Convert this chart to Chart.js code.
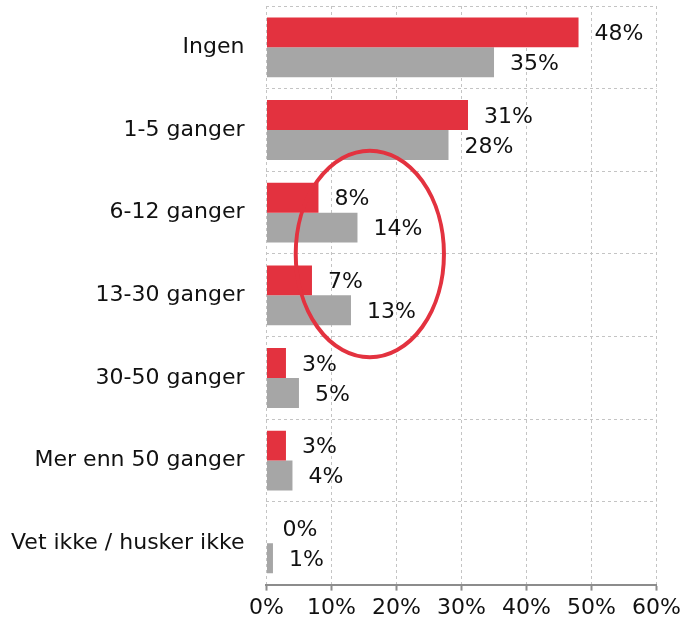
<!DOCTYPE html>
<html>
<head>
<meta charset="utf-8">
<script src="https://cdn.jsdelivr.net/npm/chart.js@4/dist/chart.umd.min.js"></script>
<style>
  body { margin: 0; background: #fff; }
</style>
</head>
<body>
<canvas id="chart" width="685" height="625"></canvas>
<script>
// Data (percent)
const categories = ['Ingen', '1-5 ganger', '6-12 ganger', '13-30 ganger', '30-50 ganger', 'Mer enn 50 ganger', 'Vet ikke / husker ikke'];
const redValues = [48, 31, 8, 7, 3, 3, 0];
const grayValues = [35, 28, 14, 13, 5, 4, 1];
const xTicks = [0, 10, 20, 30, 40, 50, 60];

const FONT = '"DejaVu Sans", Verdana, sans-serif';
const FONT_SIZE = 22;

// value labels to the right of each bar
const valueLabels = {
    id: 'valueLabels',
    afterDatasetsDraw(chart) {
        const ctx = chart.ctx;
        ctx.save();
        ctx.font = FONT_SIZE + 'px ' + FONT;
        ctx.fillStyle = '#111';
        ctx.textAlign = 'left';
        ctx.textBaseline = 'middle';
        chart.data.datasets.forEach((ds, i) => {
            chart.getDatasetMeta(i).data.forEach((bar, j) => {
                ctx.fillText(ds.data[j] + '%', bar.x + 16, bar.y + 2);
            });
        });
        ctx.restore();
    }
};

// red ring around 6-12 / 13-30 rows
const ring = {
    id: 'ring',
    afterDraw(chart) {
        const x = chart.scales.x, y = chart.scales.y;
        const cx = x.getPixelForValue(15.9);
        const cy = (y.getPixelForValue(2) + y.getPixelForValue(3)) / 2;
        const rx = x.getPixelForValue(27.3) - cx;
        const ry = (y.getPixelForValue(3) - y.getPixelForValue(2)) * 1.25;
        const ctx = chart.ctx;
        ctx.save();
        ctx.strokeStyle = '#E3323F';
        ctx.lineWidth = 4;
        ctx.beginPath();
        ctx.ellipse(cx, cy, rx, ry, 0, 0, Math.PI * 2);
        ctx.stroke();
        ctx.restore();
    }
};

new Chart(document.getElementById('chart'), {
    type: 'bar',
    data: {
        labels: categories,
        datasets: [
            { data: redValues, backgroundColor: '#E3323F', categoryPercentage: 0.724, barPercentage: 1 },
            { data: grayValues, backgroundColor: '#A6A6A6', categoryPercentage: 0.724, barPercentage: 1 }
        ]
    },
    options: {
        indexAxis: 'y',
        responsive: false,
        animation: false,
        layout: { padding: { left: -11, top: 6, right: 0, bottom: 0 } },
        plugins: { legend: { display: false }, tooltip: { enabled: false } },
        scales: {
            x: {
                min: 0,
                max: 60,
                afterBuildTicks: (axis) => { axis.ticks = xTicks.map(v => ({ value: v })); },
                afterFit: (axis) => { axis.paddingLeft = 0; },
                ticks: {
                    callback: (v) => v + '%',
                    color: '#111',
                    font: { family: FONT, size: FONT_SIZE },
                    padding: 4
                },
                grid: {
                    color: '#c4c4c4',
                    lineWidth: 1,
                    tickLength: 6,
                    tickColor: '#8c8c8c',
                    tickWidth: 2,
                    tickBorderDash: []
                },
                border: { display: true, color: '#8c8c8c', width: 2, dash: [3, 3] }
            },
            y: {
                afterFit: (axis) => { axis.paddingTop = 0; axis.paddingBottom = 0; },
                ticks: {
                    color: '#111',
                    font: { family: FONT, size: FONT_SIZE },
                    padding: 22
                },
                grid: {
                    color: '#c4c4c4',
                    lineWidth: 1,
                    drawTicks: false,
                    offset: true
                },
                border: { display: false, dash: [3, 3] }
            }
        }
    },
    plugins: [valueLabels, ring]
});
</script>
</body>
</html>
